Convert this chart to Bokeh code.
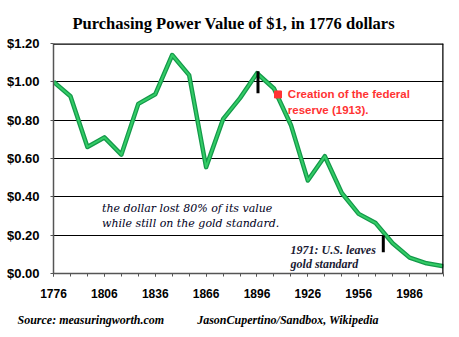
from bokeh.plotting import figure
from bokeh.models import Range1d, FixedTicker, NumeralTickFormatter, Label, Span, Title
from bokeh.embed import file_html
from bokeh.resources import INLINE

# ---- data ----
years = [1776, 1786, 1796, 1806, 1816, 1826, 1836, 1846, 1856, 1866, 1876, 1886,
         1896, 1906, 1916, 1926, 1936, 1946, 1956, 1966, 1976, 1986, 1996, 2006]
values = [1.00, 0.925, 0.66, 0.71, 0.62, 0.885, 0.935, 1.14, 1.035, 0.555, 0.805, 0.915,
          1.045, 0.965, 0.775, 0.485, 0.612, 0.42, 0.311, 0.263, 0.158, 0.083, 0.053, 0.038]
major_ticks = [1776, 1806, 1836, 1866, 1896, 1926, 1956, 1986]
minor_ticks = list(range(1776, 2007, 10))
y_ticks = [0.0, 0.2, 0.4, 0.6, 0.8, 1.0, 1.2]

title_text = "Purchasing Power Value of $1, in 1776 dollars"
fed_text = ["Creation of the federal", "reserve (1913)."]
fed_point = (1908.4, 0.934)
gold_text = ["the dollar lost 80% of its value", "while still on the gold standard."]
leave_text = ["1971: U.S. leaves", "gold standard"]
marks_x = [1896.6, 1970.5]
marks_y0 = [0.94, 0.111]
marks_y1 = [1.055, 0.198]
source_text = "Source: measuringworth.com"
credit_text = "JasonCupertino/Sandbox, Wikipedia"

p = figure(width=459, height=337, output_backend="svg", toolbar_location=None,
           x_range=Range1d(1776, 2006), y_range=Range1d(0, 1.2),
           min_border_left=53, min_border_right=16, min_border_top=43, min_border_bottom=64)
p.outline_line_color = None
p.background_fill_color = "white"
p.border_fill_color = "white"

# title
p.title.text = title_text
p.title.align = "left"
p.title.offset = 19
p.title.text_font = "Liberation Serif"
p.title.text_font_style = "bold"
p.title.text_font_size = "16.5px"
p.title.text_color = "black"
p.title.standoff = 21

# footer
footer = Title(text=source_text + "\u00a0" * 11 + credit_text, align="left", offset=-36,
               text_font="Liberation Serif", text_font_style="bold italic",
               text_font_size="12px", text_color="black", standoff=21)
p.add_layout(footer, "below")

# grid
p.xgrid.grid_line_color = None
p.ygrid.ticker = FixedTicker(ticks=y_ticks)
p.ygrid.grid_line_color = "black"
p.ygrid.grid_line_width = 1

# axes
p.xaxis.ticker = FixedTicker(ticks=major_ticks, minor_ticks=minor_ticks)
p.yaxis.ticker = FixedTicker(ticks=y_ticks)
p.yaxis.formatter = NumeralTickFormatter(format="$0.00")
for ax in (p.xaxis, p.yaxis):
    ax.axis_line_color = "#555555"
    ax.axis_line_width = 1.5
    ax.major_tick_line_color = "#555555"
    ax.minor_tick_line_color = "#555555"
    ax.major_tick_in = 0
    ax.major_tick_out = 3
    ax.minor_tick_in = 0
    ax.minor_tick_out = 3
    ax.major_label_text_font = "Liberation Sans"
    ax.major_label_text_font_style = "bold"
    ax.major_label_text_color = "black"
p.yaxis.minor_tick_line_color = None
p.yaxis.major_label_text_font_size = "13px"
p.yaxis.major_label_standoff = 11
p.xaxis.major_label_text_font_size = "12px"
p.xaxis.major_label_standoff = 12

# frame top & right
p.add_layout(Span(location=1.2, dimension="width", line_color="black", line_width=2.5))
p.add_layout(Span(location=2006, dimension="height", line_color="black", line_width=2.5))

# line
p.line(years, values, line_color="#14994a", line_width=4.5, line_join="round")
p.line(years, values, line_color="#33cc66", line_width=2, line_join="round")

# markers
p.segment(x0=marks_x, y0=marks_y0, x1=marks_x, y1=marks_y1, line_color="black", line_width=3)
p.scatter([fed_point[0]], [fed_point[1]], marker="square", size=7, color="#ff3333")

def add_text(x, y, text, font, size, style, color):
    p.add_layout(Label(x=x, y=y, text=text,
                       text_font=font, text_font_size=size, text_font_style=style,
                       text_color=color, text_align="left", text_baseline="middle"))

add_text(1914.2, 0.934, fed_text[0], "Liberation Sans", "11.5px", "bold", "#ff3333")
add_text(1914.2, 0.855, fed_text[1], "Liberation Sans", "11.5px", "bold", "#ff3333")
add_text(1804.6, 0.341, gold_text[0], "DejaVu Serif", "11px", "italic", "#000022")
add_text(1804.6, 0.259, gold_text[1], "DejaVu Serif", "11px", "italic", "#000022")
add_text(1915.8, 0.124, leave_text[0], "Liberation Serif", "12px", "bold italic", "#1a1a33")
add_text(1915.8, 0.051, leave_text[1], "Liberation Serif", "12px", "bold italic", "#1a1a33")

open("out.html", "w").write(file_html(p, INLINE))
